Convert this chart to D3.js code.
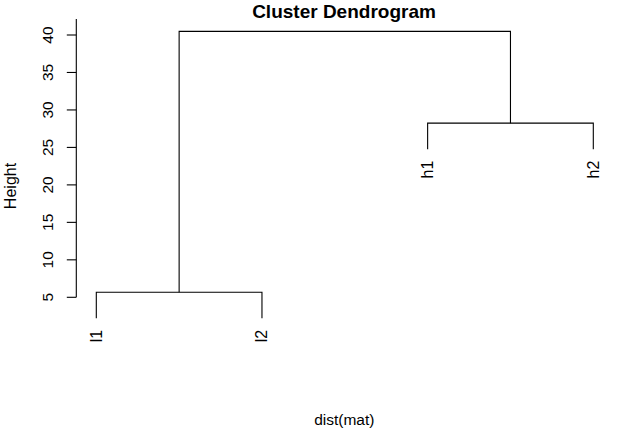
<!DOCTYPE html>
<html>
<head>
<meta charset="utf-8">
<script src="https://cdn.jsdelivr.net/npm/d3@7"></script>
<style>
  html, body { margin: 0; padding: 0; background: #fff; }
  svg text { font-family: "Liberation Sans", Arial, sans-serif; fill: #000; }
</style>
</head>
<body>
<svg id="chart" width="633" height="431"></svg>
<script>
// ---- data ----
const leaves = ["l1", "l2", "h1", "h2"];
// merges: [left child, right child, height]; children are leaf names or merge ids ("m0", "m1")
const mergeLeft = ["l1", "h1", "m0"];
const mergeRight = ["l2", "h2", "m1"];
const mergeHeights = [5.67, 28.24, 40.48];
const yTicks = [5, 10, 15, 20, 25, 30, 35, 40];
const title = "Cluster Dendrogram";
const xLabel = "dist(mat)";
const yLabel = "Height";

// ---- layout ----
const svg = d3.select("#chart");
const W = 633, H = 431;
const x = d3.scalePoint().domain(leaves).range([96.3, 593.3]);
const y = d3.scaleLinear().domain([5, 40]).range([297.3, 35]);
const hang = 0.1 * (d3.max(mergeHeights) - d3.min(mergeHeights));

// position of each node
const pos = {};
// compute leaf heights: parent height - hang
const g = svg.append("g").attr("fill", "none").attr("stroke", "#000").attr("stroke-width", 1.1);

mergeHeights.forEach((h, i) => {
  [mergeLeft[i], mergeRight[i]].forEach(c => {
    if (leaves.includes(c)) pos[c] = { x: x(c), h: h - hang };
  });
  const a = pos[mergeLeft[i]], b = pos[mergeRight[i]];
  pos["m" + i] = { x: (a.x + b.x) / 2, h: h, a: a, b: b };
});

mergeHeights.forEach((h, i) => {
  const n = pos["m" + i];
  const p = d3.path();
  p.moveTo(n.a.x, y(n.a.h));
  p.lineTo(n.a.x, y(h));
  p.lineTo(n.b.x, y(h));
  p.lineTo(n.b.x, y(n.b.h));
  g.append("path").attr("d", p.toString());
});

// leaf labels
leaves.forEach(l => {
  const p = pos[l];
  svg.append("text")
    .attr("transform", `translate(${p.x + 5.5},${y(p.h) + 11.5}) rotate(-90)`)
    .attr("text-anchor", "end")
    .attr("font-size", "16px")
    .text(l);
});

// y axis
const axisX = 76.3;
const ax = svg.append("g").attr("stroke", "#000").attr("stroke-width", 1.1);
ax.append("line")
  .attr("x1", axisX).attr("x2", axisX)
  .attr("y1", y(42.14)).attr("y2", y(yTicks[0]));
yTicks.forEach(t => {
  ax.append("line")
    .attr("x1", axisX - 9.5).attr("x2", axisX)
    .attr("y1", y(t)).attr("y2", y(t));
  svg.append("text")
    .attr("transform", `translate(53,${y(t)}) rotate(-90)`)
    .attr("text-anchor", "middle")
    .attr("font-size", "15.5px")
    .text(t);
});

// titles
svg.append("text")
  .attr("x", 344).attr("y", 18)
  .attr("text-anchor", "middle")
  .attr("font-size", "19px")
  .attr("font-weight", "bold")
  .text(title);
svg.append("text")
  .attr("x", 344.3).attr("y", 425)
  .attr("text-anchor", "middle")
  .attr("font-size", "15.5px")
  .text(xLabel);
svg.append("text")
  .attr("transform", `translate(16,186) rotate(-90)`)
  .attr("text-anchor", "middle")
  .attr("font-size", "16px")
  .text(yLabel);
</script>
</body>
</html>
